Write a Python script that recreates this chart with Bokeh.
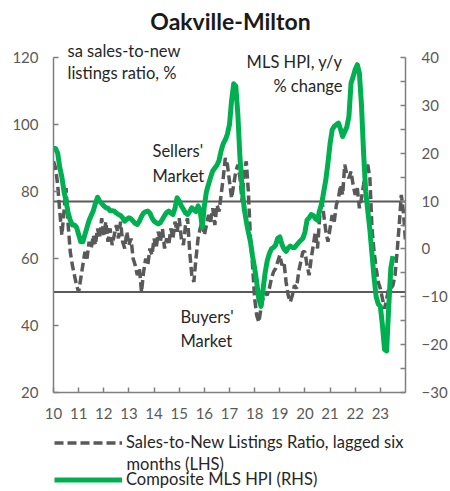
from bokeh.plotting import figure
from bokeh.layouts import column
from bokeh.models import (Range1d, LinearAxis, FixedTicker, Span, Label, Legend, LegendItem)
from bokeh.embed import file_html
from bokeh.resources import INLINE

# ---------------- data (monthly, starting Jan 2010) ----------------
start_year = 2010
tick_years = [2010, 2011, 2012, 2013, 2014, 2015, 2016, 2017, 2018, 2019, 2020, 2021, 2022, 2023]
tick_labels = ["10", "11", "12", "13", "14", "15", "16", "17", "18", "19", "20", "21", "22", "23"]
lhs_ticks = [20, 40, 60, 80, 100, 120]
rhs_ticks = [-30, -20, -10, 0, 10, 20, 30, 40]
rhs_minor_ticks = [-25, -15, -5, 5, 15, 25, 35]

# Composite MLS HPI, y/y % change (RHS), Jan 2010 - Jul 2023
hpi_yoy = [
    21, 21, 20, 17, 15, 12, 10, 7.5, 6, 5, 5, 4.5,            # 2010
    3, 1.5, 1.5, 3, 4.5, 6, 7, 8, 9.5, 10.8, 10, 9.5,          # 2011
    9, 8.6, 8.5, 8, 8, 7.9, 7.5, 7.2, 7, 6.5, 5.8, 6.2,        # 2012
    6.5, 6.3, 5.8, 5.3, 5.1, 5.8, 6.8, 7.5, 7.8, 7.9, 7.5, 6.5,  # 2013
    5.8, 5.5, 5.2, 5.5, 6.2, 7, 7.6, 7.9, 7.5, 7.2, 8.5, 10.7,   # 2014
    10, 9, 8.3, 7.5, 7.2, 7.8, 8.6, 8.2, 7.8, 9, 8, 4.5,         # 2015
    9, 12, 13.5, 15, 16.3, 16.9, 17.5, 18.5, 20.5, 22, 22.8, 24,  # 2016
    26, 31, 34.5, 34, 28, 19, 13, 8.5, 5.8, 3.5, 1.5, -1.5,      # 2017
    -4, -7, -10.5, -12, -8.5, -5, -2.5, -1, 0, 0.3, 0.8, 2.2,    # 2018
    2.5, 1, 0, -0.5, 0.2, 0.6, 0.3, 0.3, 0.8, 1.3, 1.8, 2.2,     # 2019
    3.5, 6, 6.5, 7.2, 7, 6.3, 6, 8, 9.5, 12, 14.5, 18,           # 2020
    22, 24.9, 25.6, 26, 26.3, 25, 23.5, 24.5, 25.5, 27.7, 34.6, 36,  # 2021
    37.5, 38.5, 36.7, 30, 20, 12, 8, 4, -1, -6, -10, -11.5,      # 2022
    -12, -16, -21, -21.3, -12, -4, -1.5,                          # 2023
]

# Sales-to-new listings ratio, lagged six months (LHS), Jan 2010 - Jan 2024
snlr_lagged = [
    89, 87, 82, 74, 67, 74, 81, 70, 62, 58, 55, 52,               # 2010
    50, 54, 58, 62, 60, 65, 63, 67, 64, 69, 66, 72,               # 2011
    67, 71, 65, 69, 64, 67, 70, 66, 71, 65, 63, 68,               # 2012
    64, 66, 60, 58, 55, 57, 50, 56, 60, 58, 63, 61,               # 2013
    66, 63, 68, 65, 69, 63, 66, 64, 69, 66, 71, 68,               # 2014
    72, 66, 64, 70, 72, 62, 55, 53, 60, 66, 69, 71,               # 2015
    67, 70, 73, 71, 75, 70, 76, 74, 79, 84, 90, 88,               # 2016
    83, 78, 82, 86, 88, 84, 77, 86, 89, 80, 66, 58,               # 2017
    48, 43, 41, 45, 48, 50, 49, 51, 54, 56, 57, 59,               # 2018
    61, 58, 59, 53, 49, 47, 49, 52, 51, 56, 59, 62,               # 2019
    62, 58, 55, 60, 64, 68, 63, 72, 78, 73, 68, 65,               # 2020
    69, 73, 71, 76, 78, 82, 79, 88, 85, 84, 86, 82,               # 2021
    79, 81, 75, 78, 82, 87, 88, 84, 69, 62, 57, 53,               # 2022
    51, 48, 45, 48, 51, 51, 52, 55, 62, 70, 79, 74,               # 2023
    65,                                                           # 2024
]

sellers_threshold = 77
buyers_threshold = 50

x_snlr = [start_year + i / 12 for i in range(len(snlr_lagged))]
x_hpi = [start_year + i / 12 for i in range(len(hpi_yoy))]

# ---------------- layout ----------------
W = 450
MAIN_H, LEG_H = 430, 61
LEFT, RIGHT, BOTTOM = 53, 41, 38
FRAME_H = MAIN_H - BOTTOM         # frame runs up to the top edge (392 px)
AXIS_H = 335                      # pixel height of the 20..120 / -30..40 span
lhs_lo, lhs_hi = 20, 120
rhs_lo, rhs_hi = -30, 40
lhs_top = lhs_lo + (lhs_hi - lhs_lo) * FRAME_H / AXIS_H
rhs_top = rhs_lo + (rhs_hi - rhs_lo) * FRAME_H / AXIS_H

FONT = "Lato"
AX = "#7f7f7f"
TICKTXT = "#595959"
TXT = "#262626"
GREEN = "#00b050"
GREY = "#595959"
NOTE = "16.5px"
DASHED = dict(line_color=GREY, line_width=3.5, line_dash="9 4")
SOLID = dict(line_color=GREEN, line_width=5, line_join="round")

p = figure(width=W, height=MAIN_H, output_backend="svg", toolbar_location=None,
           x_range=Range1d(2010, 2024), y_range=Range1d(lhs_lo, lhs_top),
           min_border_left=LEFT, min_border_right=RIGHT, min_border_top=0,
           min_border_bottom=BOTTOM)
p.extra_y_ranges = {"hpi": Range1d(rhs_lo, rhs_top)}
p.xgrid.visible = False
p.ygrid.visible = False
p.outline_line_color = None
p.background_fill_color = "white"
p.border_fill_color = "white"

for v in (sellers_threshold, buyers_threshold):
    p.add_layout(Span(location=v, dimension="width", line_color=GREY, line_width=2,
                      level="underlay"))

p.line(x_snlr, snlr_lagged, **DASHED)
p.line(x_hpi, hpi_yoy, y_range_name="hpi", **SOLID)

raxis = LinearAxis(y_range_name="hpi", bounds=(rhs_lo, rhs_hi),
                   ticker=FixedTicker(ticks=rhs_ticks, minor_ticks=rhs_minor_ticks))
p.add_layout(raxis, "right")


def style_axis(ax, standoff):
    ax.axis_line_color = AX
    ax.axis_line_width = 1.5
    ax.major_tick_line_color = AX
    ax.major_tick_line_width = 1.5
    ax.major_tick_in = 5
    ax.major_tick_out = 0
    ax.minor_tick_line_color = AX
    ax.minor_tick_line_width = 1.5
    ax.minor_tick_in = 5
    ax.minor_tick_out = 0
    ax.major_label_text_font = FONT
    ax.major_label_text_font_size = "15px"
    ax.major_label_text_color = TICKTXT
    ax.major_label_standoff = standoff


laxis = p.yaxis[0]
laxis.bounds = (lhs_lo, lhs_hi)
laxis.ticker = FixedTicker(ticks=lhs_ticks)
style_axis(laxis, 15)
laxis.minor_tick_line_color = None
style_axis(raxis, 16)

xaxis = p.xaxis[0]
xaxis.ticker = FixedTicker(ticks=tick_years)
xaxis.major_label_overrides = {y: lab for y, lab in zip(tick_years, tick_labels)}
style_axis(xaxis, 15)
xaxis.minor_tick_line_color = None


# ---------------- texts (screen px from the frame's bottom-left) ----------------
def add_text(fig, txt, sx, sy, align="left", size=NOTE, style="normal", color=TXT):
    fig.add_layout(Label(x=sx, y=sy, x_units="screen", y_units="screen", text=txt,
                         text_align=align, text_baseline="middle", text_font=FONT,
                         text_font_size=size, text_font_style=style, text_color=color))


add_text(p, "Oakville-Milton", 177, 372, align="center", size="23px", style="bold", color="#1a1a1a")
add_text(p, "sa sales-to-new", 14, 342)
add_text(p, "listings ratio, %", 14, 320)
add_text(p, "MLS HPI, y/y", 289, 331, align="right")
add_text(p, "% change", 289, 307, align="right")
add_text(p, "Sellers'", 99, 242)
add_text(p, "Market", 99, 217)
add_text(p, "Buyers'", 127, 76)
add_text(p, "Market", 127, 52)

# ---------------- legend strip ----------------
q = figure(width=W, height=LEG_H, output_backend="svg", toolbar_location=None,
           x_range=Range1d(0, 1), y_range=Range1d(0, 1), min_border=0)
q.axis.visible = False
q.xgrid.visible = False
q.ygrid.visible = False
q.outline_line_color = None
q.border_fill_color = "white"
nan = float("nan")
l_d = q.line(x=[nan], y=[nan], **DASHED)
l_g = q.line(x=[nan], y=[nan], **SOLID)


def make_legend(label, rend, loc):
    return Legend(items=[LegendItem(label=label, renderers=[rend])], location=loc,
                  orientation="vertical", padding=0, margin=0, spacing=0,
                  glyph_width=68, glyph_height=19, label_height=19, label_standoff=4,
                  label_text_font=FONT, label_text_font_size=NOTE, label_text_color=TXT,
                  border_line_color=None, background_fill_alpha=0)


q.add_layout(make_legend("Sales-to-New Listings Ratio, lagged six", l_d, (1, 39)))
add_text(q, "months (LHS)", 73, 28)
q.add_layout(make_legend("Composite MLS HPI (RHS)", l_g, (1, 2)))

open("out.html", "w").write(file_html(column(p, q, spacing=0), INLINE))
